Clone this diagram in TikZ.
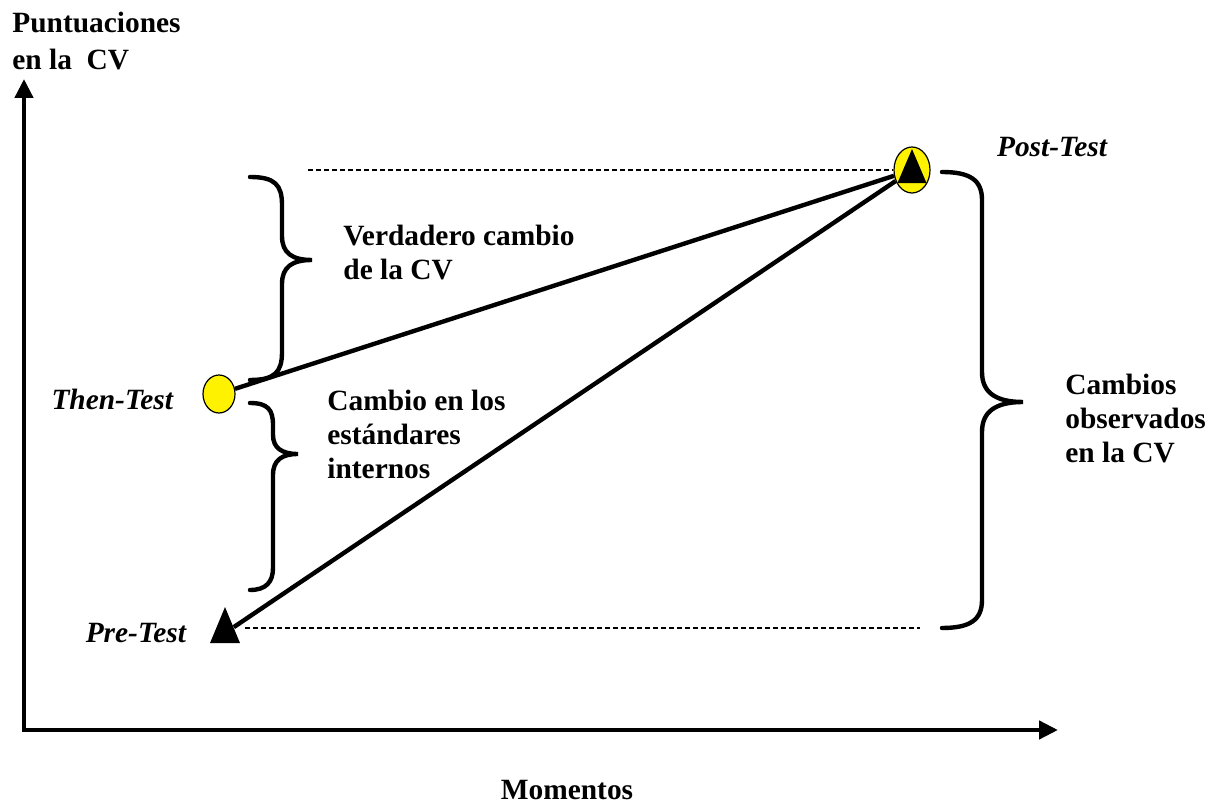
\documentclass[tikz,border=0pt]{standalone}
\usepackage{fontspec}
\setmainfont{Liberation Serif}
\usepackage{tikz}
\usetikzlibrary{arrows.meta,shapes.geometric}

\begin{document}
\begin{tikzpicture}[x=0.5pt,y=-0.5pt,
  font=\fontsize{14.7pt}{17pt}\selectfont\bfseries,
  circulo/.style={ellipse,draw=black,line width=0.6pt,fill=yellow,inner sep=0pt},
  triang/.style={isosceles triangle,isosceles triangle stretches,shape border rotate=90,fill=black,inner sep=0pt},
  linea/.style={line width=2.2pt},
  llave/.style={line width=2.2pt,line cap=round},
  punteada/.style={line width=1pt,dash pattern=on 2.5pt off 1.5pt},
  texto/.style={align=left,inner sep=0pt,anchor=north west}]
\useasboundingbox (0,0) rectangle (1226,806);

% ejes
\coordinate (origen) at (24,730);
\coordinate (ejeY) at (24,79);
\coordinate (ejeX) at (1058,730);
\draw[linea,{Triangle[length=9.5pt,width=9pt]}-{Triangle[length=9.5pt,width=9pt]}] (ejeY) -- (origen) -- (ejeX);
\node[texto] (lejeY) at (12,12) {Puntuaciones\\[1.5pt]en la~~CV};
\node[anchor=base] (lejeX) at (567,799) {Momentos};

% marcas
\node[circulo,minimum width=16pt,minimum height=19pt] (then) at (219,394) {};
\node[circulo,minimum width=18pt,minimum height=23pt] (post) at (912,170) {};
\node[triang,minimum width=14.5pt,minimum height=17pt,anchor=apex] (postT) at (912,148) {};
\node[triang,minimum width=15pt,minimum height=18pt,anchor=apex] (pre) at (225,606) {};

\node[anchor=base east] (lthen) at (180,410) {\itshape Then-Test};
\node[anchor=base east] (lpre) at (193,642) {\itshape Pre-Test};
\node[anchor=base west] (lpost) at (990,157) {\itshape Post-Test};

% lineas punteadas
\coordinate (p1) at (308,170);
\coordinate (p2) at (245,628);
\coordinate (p3) at (920,628);
\draw[punteada] (p1) -- (post.west);
\draw[punteada] (p2) -- (p3);

\path[linea] (then) edge (post)
             (pre) edge (post);

% llaves
\draw[llave] (250,177) .. controls (275,177) and (282,185) .. (282,205) -- (282,236)
  .. controls (282,253) and (292,260) .. (312,260) .. controls (292,260) and (282,267) .. (282,284)
  -- (282,352) .. controls (282,372) and (275,380) .. (250,380);
\draw[llave] (250,403) .. controls (268,403) and (273,410) .. (273,425) -- (273,435)
  .. controls (273,448) and (282,454) .. (298,454) .. controls (282,454) and (273,460) .. (273,475)
  -- (273,568) .. controls (273,582) and (266,590) .. (250,590);
\draw[llave] (942,172) .. controls (970,172) and (982,180) .. (982,200) -- (982,372)
  .. controls (982,392) and (995,402) .. (1023,402) .. controls (995,402) and (982,412) .. (982,432)
  -- (982,600) .. controls (982,620) and (970,628) .. (942,628);

\node[texto] (lverd) at (343,225) {Verdadero cambio\\de la CV};
\node[texto] (lcamb) at (327,390) {Cambio en los\\estándares\\internos};
\node[texto] (lobs) at (1065,374) {Cambios\\observados\\en la CV};

\end{tikzpicture}
\end{document}
